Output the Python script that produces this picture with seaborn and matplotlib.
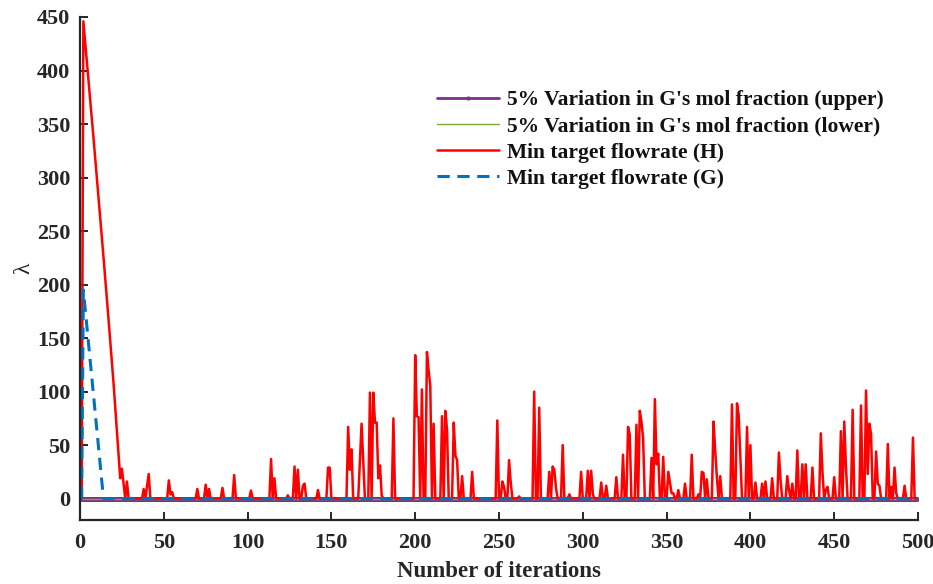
import numpy as np
import pandas as pd
import matplotlib
matplotlib.use("Agg")
import matplotlib.pyplot as plt
import seaborn as sns

# ---------------- data ----------------
iterations = list(range(1, 501))

# Min target flowrate (H): key vertices (iteration, lambda)
red_x = [1, 2, 5, 8, 11, 14, 17, 20, 22, 24, 25, 27, 28, 29,
         37, 38, 39, 41, 42, 52, 53, 54, 55, 56, 69, 70, 71, 74, 75, 76, 77, 78,
         84, 85, 86, 91, 92, 93, 101, 102, 103, 113, 114, 115, 116, 117, 123, 124, 125,
         127, 128, 129, 130, 131, 132, 133, 134, 135, 141, 142, 143, 147, 148, 149, 150,
         159, 160, 161, 162, 163, 166, 168, 170, 172, 173, 174, 175, 176, 177, 178, 179, 180, 181,
         186, 187, 188, 199, 200, 201, 202, 203, 204, 205, 206, 207, 208, 209, 210, 211, 212,
         215, 216, 217, 218, 219, 220, 222, 223, 224, 225, 226, 227, 228, 229, 233, 234, 235,
         248, 249, 250, 251, 252, 253, 254, 255, 256, 257, 258, 261, 262, 263,
         270, 271, 272, 273, 274, 275, 279, 280, 281, 282, 283, 284, 285, 287, 288, 289,
         291, 292, 293, 298, 299, 300, 302, 303, 304, 305, 306, 307, 310, 311, 312, 313, 314, 315,
         319, 320, 321, 323, 324, 325, 326, 327, 328, 329, 331, 332, 333, 334, 335, 336, 337,
         340, 341, 342, 343, 344, 345, 346, 347, 348, 349, 350, 351, 352, 353, 354, 355,
         356, 357, 358, 360, 361, 362, 364, 365, 366, 368, 369, 370, 371, 372, 373, 374, 375,
         377, 378, 379, 380, 381, 382, 383, 388, 389, 390, 391, 392, 393, 394, 395,
         397, 398, 399, 400, 401, 402, 403, 404, 406, 407, 408, 409, 410, 412, 413, 414,
         416, 417, 418, 419, 421, 422, 423, 424, 425, 426, 427, 428, 429, 430, 431, 432, 433, 434,
         436, 437, 438, 441, 442, 443, 444, 445, 446, 447, 449, 450, 451, 453, 454, 455, 456, 457, 458,
         460, 461, 462, 465, 466, 467, 468, 469, 470, 471, 472, 473, 474, 475, 476, 477, 478,
         481, 482, 483, 484, 485, 486, 487, 488, 491, 492, 493, 496, 497, 498, 500]
red_y = [0, 446, 392, 338, 282, 226, 168, 108, 64, 19, 28, 0, 16, 0,
         0, 9, 0, 23, 0, 0, 17, 4, 6, 0, 0, 9, 0, 0, 13, 0, 9, 0,
         0, 10, 0, 0, 22, 0, 0, 7.5, 0, 0, 37, 0, 19, 0, 0, 3, 0,
         0, 30, 0, 27, 0, 0, 12, 14, 0, 0, 8, 0, 0, 29, 29, 0,
         0, 67, 27, 46, 0, 0, 70, 0, 0, 99, 0, 99, 71, 71, 19, 31, 3, 0,
         0, 75, 0, 0, 134, 77, 76, 0, 102, 0, 0, 137, 120, 105, 0, 70, 0,
         0, 77, 0, 82, 64, 0, 0, 71, 40, 36, 0, 0, 21, 0, 0, 25, 0,
         0, 73, 0, 0, 16, 11, 0, 0, 36, 15, 0, 0, 2, 0,
         0, 100, 0, 0, 85, 0, 0, 25, 0, 30, 27, 10, 0, 0, 50, 0,
         0, 4, 0, 0, 25, 0, 0, 26, 0, 26, 4, 0, 0, 15, 0, 0, 12, 0,
         0, 20, 0, 0, 41, 0, 0, 67, 60, 0, 0, 69, 0, 82, 72, 56, 0,
         0, 38, 0, 93, 32, 42, 0, 0, 39, 0, 0, 25, 15, 5, 5, 0,
         0, 8, 0, 0, 14, 0, 0, 41, 0, 0, 4, 0, 25, 24, 0, 18, 0,
         0, 72, 45, 20, 0, 21, 0, 0, 88, 0, 0, 89, 78, 40, 0,
         0, 67, 0, 50, 0, 0, 15, 0, 0, 14, 0, 16, 0, 0, 19, 0,
         0, 43, 17, 0, 0, 21, 8, 0, 14, 0, 0, 45, 0, 0, 32, 0, 32, 0,
         0, 29, 0, 0, 61, 25, 0, 8, 11, 0, 0, 20, 0, 0, 63, 0, 72, 30, 0,
         0, 83, 0, 0, 87, 0, 0, 101, 23, 70, 60, 0, 0, 44, 14, 12, 0,
         0, 51, 0, 11, 0, 29, 5, 0, 0, 12, 0, 0, 57, 0, 0]

# Min target flowrate (G): key vertices
blue_x = [1, 2, 7, 14, 500]
blue_y = [0, 195, 114, 0, 0]

# 5% variation in G's mol fraction (upper / lower): flat at zero
upper_y = [0.0] * len(iterations)
lower_y = [0.0] * len(iterations)

labels = ["5% Variation in G's mol fraction (upper)",
          "5% Variation in G's mol fraction (lower)",
          "Min target flowrate (H)",
          "Min target flowrate (G)"]
x_ticks = [0, 50, 100, 150, 200, 250, 300, 350, 400, 450, 500]
y_ticks = [0, 50, 100, 150, 200, 250, 300, 350, 400, 450]

# ---------------- plotting ----------------
sns.set_theme(style="white")
plt.rcParams["font.family"] = ["Liberation Serif", "DejaVu Serif"]

fig = plt.figure(figsize=(9.33, 5.84), dpi=100)
ax = fig.add_axes([80 / 933, 1 - 520 / 584, (918 - 80) / 933, (520 - 17) / 584])

purple = "#7E2F8E"
green = "#77AC30"
red = "#FF0000"
blue = "#0072BD"

sns.lineplot(x=iterations, y=upper_y, ax=ax, color=purple, lw=3.6, marker=".",
             markersize=6, markeredgewidth=0, label=labels[0], estimator=None)
sns.lineplot(x=iterations, y=lower_y, ax=ax, color=green, lw=1.0,
             label=labels[1], estimator=None)
sns.lineplot(x=red_x, y=red_y, ax=ax, color=red, lw=1.8,
             label=labels[2], estimator=None, sort=False)
sns.lineplot(x=blue_x, y=blue_y, ax=ax, color=blue, lw=2.2, dashes=False,
             label=labels[3], estimator=None, sort=False)
ax.lines[-1].set_linestyle((0, (4, 2.5)))

ax.set_xlim(0, 500)
ax.set_ylim(-20, 450)
ax.set_xticks(x_ticks)
ax.set_yticks(y_ticks)
ax.set_xticklabels([str(t) for t in x_ticks])
ax.set_yticklabels([str(t) for t in y_ticks])

for s in ["top", "right"]:
    ax.spines[s].set_visible(False)
for s in ["left", "bottom"]:
    ax.spines[s].set_color("#262626")
    ax.spines[s].set_linewidth(1.6)

ax.tick_params(axis="both", which="major", bottom=True, left=True, direction="in",
               length=6, width=1.4, color="#262626", labelsize=16, labelcolor="#262626")
ax.tick_params(axis="x", pad=9)
ax.tick_params(axis="y", pad=7)
for lab in ax.get_xticklabels() + ax.get_yticklabels():
    lab.set_fontweight("bold")

ax.set_xlabel("Number of iterations", fontsize=16.5, fontweight="bold",
              color="#262626", labelpad=6)
ax.set_ylabel("λ", fontsize=17, color="#262626", labelpad=2)

handles, lbls = ax.get_legend_handles_labels()
leg = ax.legend(handles, lbls, loc="upper left", bbox_to_anchor=(437 / 933, 1 - 90 / 584),
                bbox_transform=fig.transFigure, frameon=False, borderpad=0,
                borderaxespad=0, handlelength=2.9, handletextpad=0.35,
                labelspacing=0.29, prop={"family": "Liberation Serif", "weight": "bold", "size": 15.5})
for t in leg.get_texts():
    t.set_color("#111111")
leg.legend_handles[0].set_linewidth(2.0)

fig.savefig("out.png", dpi=100)
